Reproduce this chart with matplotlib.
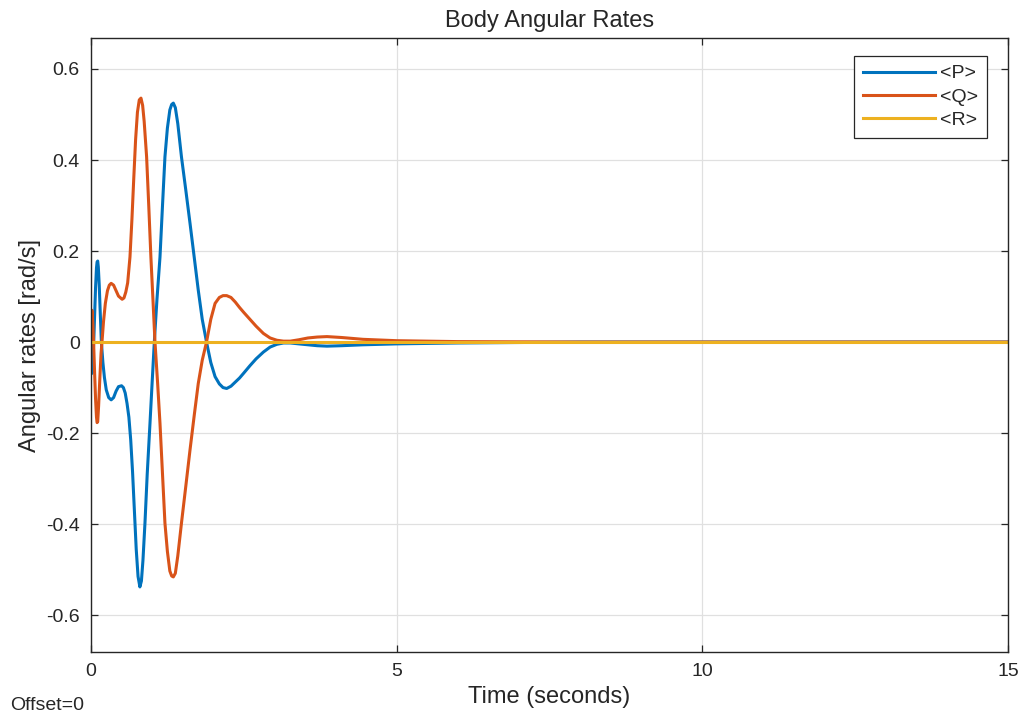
import matplotlib
matplotlib.use("Agg")
from matplotlib import pyplot as plt

plt.rcParams['font.family'] = ['Liberation Sans', 'DejaVu Sans']

# body rates (rad/s vs s)
t_p = [0.000, 0.010, 0.014, 0.020, 0.030, 0.045, 0.060, 0.075, 0.090, 0.100,
       0.110, 0.120, 0.135, 0.150, 0.170, 0.195, 0.220, 0.250, 0.290, 0.330,
       0.370, 0.410, 0.450, 0.500, 0.530, 0.560, 0.590, 0.620, 0.650, 0.680,
       0.710, 0.740, 0.770, 0.800, 0.825, 0.850, 0.883, 0.920, 0.965, 1.000,
       1.036, 1.080, 1.129, 1.170, 1.210, 1.250, 1.290, 1.320, 1.347, 1.380,
       1.420, 1.480, 1.550, 1.620, 1.690, 1.755, 1.820, 1.890, 1.960, 2.030,
       2.100, 2.160, 2.220, 2.290, 2.360, 2.430, 2.500, 2.600, 2.700, 2.820,
       2.930, 3.040, 3.150, 3.260, 3.400, 3.550, 3.700, 3.860, 4.100, 4.450,
       5.000, 5.500, 6.000, 7.000, 8.000, 15.000]
P = [0.000, -0.030, -0.069, -0.065, -0.045, 0.000, 0.060, 0.120, 0.163, 0.176,
     0.178, 0.165, 0.125, 0.070, 0.000, -0.045, -0.078, -0.105, -0.122, -0.127,
     -0.122, -0.108, -0.098, -0.096, -0.100, -0.112, -0.135, -0.165, -0.215, -0.285,
     -0.370, -0.455, -0.515, -0.538, -0.525, -0.480, -0.398, -0.290, -0.179, -0.090,
     0.000, 0.095, 0.187, 0.300, 0.407, 0.470, 0.510, 0.522, 0.525, 0.515,
     0.480, 0.407, 0.335, 0.261, 0.185, 0.114, 0.050, 0.000, -0.045, -0.076,
     -0.092, -0.100, -0.102, -0.097, -0.088, -0.079, -0.068, -0.052, -0.037, -0.022,
     -0.011, -0.005, -0.002, -0.002, -0.004, -0.006, -0.008, -0.009, -0.008, -0.006,
     -0.004, -0.003, -0.002, -0.001, 0.000, 0.000]

t_q = [0.000, 0.010, 0.014, 0.020, 0.030, 0.045, 0.060, 0.075, 0.090, 0.100,
       0.110, 0.125, 0.145, 0.165, 0.180, 0.205, 0.235, 0.270, 0.300, 0.330,
       0.370, 0.410, 0.450, 0.510, 0.540, 0.570, 0.600, 0.638, 0.670, 0.700,
       0.730, 0.760, 0.790, 0.818, 0.845, 0.870, 0.910, 0.945, 0.980, 1.015,
       1.047, 1.090, 1.129, 1.170, 1.210, 1.250, 1.290, 1.320, 1.347, 1.380,
       1.420, 1.480, 1.550, 1.620, 1.690, 1.755, 1.820, 1.890, 1.960, 2.030,
       2.100, 2.160, 2.220, 2.290, 2.360, 2.430, 2.500, 2.600, 2.700, 2.820,
       2.930, 3.040, 3.150, 3.260, 3.400, 3.550, 3.700, 3.860, 4.100, 4.450,
       5.000, 5.500, 6.000, 7.000, 8.000, 15.000]
Q = [0.000, 0.030, 0.070, 0.065, 0.040, -0.010, -0.070, -0.125, -0.165, -0.177,
     -0.175, -0.140, -0.080, -0.025, 0.000, 0.045, 0.085, 0.113, 0.125, 0.129,
     0.125, 0.113, 0.101, 0.094, 0.097, 0.110, 0.130, 0.187, 0.270, 0.360,
     0.445, 0.505, 0.532, 0.536, 0.520, 0.485, 0.407, 0.300, 0.187, 0.090,
     0.000, -0.090, -0.179, -0.290, -0.398, -0.460, -0.503, -0.514, -0.516, -0.508,
     -0.470, -0.398, -0.318, -0.237, -0.160, -0.091, -0.040, 0.000, 0.050, 0.085,
     0.098, 0.102, 0.102, 0.098, 0.088, 0.076, 0.065, 0.050, 0.035, 0.019,
     0.009, 0.004, 0.002, 0.002, 0.005, 0.009, 0.011, 0.012, 0.010, 0.006,
     0.003, 0.002, 0.001, 0.0005, 0.000, 0.000]

t_r = [0.0, 15.0]
R = [0.0, 0.0]

xticks = [0, 5, 10, 15]
yticks = [-0.6, -0.4, -0.2, 0, 0.2, 0.4, 0.6]
ytick_labels = ['-0.6', '-0.4', '-0.2', '0', '0.2', '0.4', '0.6']

dark = '#262626'

fig = plt.figure(figsize=(10.28, 7.23), dpi=100)
ax = fig.add_axes([0.0885, 0.0982, 0.892, 0.8492])

ax.plot(t_p, P, color='#0072BD', lw=2.2, label='<P>', solid_joinstyle='round')
ax.plot(t_q, Q, color='#D95319', lw=2.2, label='<Q>', solid_joinstyle='round')
ax.plot(t_r, R, color='#EDB120', lw=2.2, label='<R>')

ax.set_xlim(0, 15)
ax.set_ylim(-0.681, 0.668)
ax.set_xticks(xticks)
ax.set_yticks(yticks)
ax.set_yticklabels(ytick_labels)
ax.grid(True, color='#e0e0e0', lw=0.9)
ax.set_axisbelow(True)

ax.tick_params(direction='in', top=True, right=True, length=5, width=0.9,
               colors=dark, labelsize=14, pad=8)
for s in ax.spines.values():
    s.set_color(dark)
    s.set_linewidth(1.0)

ax.set_title('Body Angular Rates', fontsize=17, color=dark, pad=8)
ax.set_xlabel('Time (seconds)', fontsize=17, color=dark, labelpad=4)
ax.set_ylabel('Angular rates [rad/s]', fontsize=17, color=dark, labelpad=4)

leg = ax.legend(loc='upper right', bbox_to_anchor=(0.977, 0.9707),
                borderaxespad=0, fontsize=14, fancybox=False, framealpha=1,
                edgecolor=dark, handlelength=3.7, handletextpad=0.25,
                labelspacing=0.3, borderpad=0.45)
leg.get_frame().set_linewidth(0.9)
for txt in leg.get_texts():
    txt.set_color(dark)

fig.text(10 / 1028, 1 - 706 / 723, 'Offset=0', fontsize=14, color=dark,
         va='center', ha='left')

fig.savefig('out.png', dpi=100)
